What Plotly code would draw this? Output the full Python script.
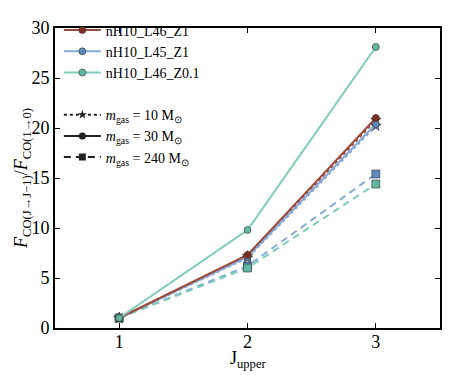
import plotly.graph_objects as go

# J_upper levels
j_upper = [1, 2, 3]

# line ratios, per model and gas mass
l46_z1_30 = [1.0, 7.3, 21.0]
l46_z1_10 = [1.0, 7.2, 20.8]
l45_z1_30 = [1.0, 7.1, 20.4]
l45_z1_10 = [1.0, 7.0, 20.2]
l45_z1_240 = [1.0, 6.2, 15.4]
l46_z01_30 = [1.0, 9.8, 28.1]
l46_z01_240 = [1.0, 6.0, 14.4]

red_line, red_mark = "#9c4a3c", "#7d2f24"
blue_line, blue_mark = "#86aad6", "#5f88bd"
teal_line, teal_mark = "#7fcab8", "#62b7a2"

font = "Liberation Serif"
dashed = "7px,5px"

fig = go.Figure()


def add(y, line_c, mark_c, dash, symbol, size):
    fig.add_trace(go.Scatter(
        x=j_upper, y=y, mode="lines+markers", showlegend=False,
        line=dict(color=line_c, width=2, dash=dash),
        marker=dict(color=mark_c, symbol=symbol, size=size,
                    line=dict(color="#333333", width=0.6))))


# dashed (240 Msun) at the back
add(l45_z1_240, blue_line, blue_mark, dashed, "square", 8)
add(l46_z01_240, teal_line, teal_mark, dashed, "square", 8)
# dotted (10 Msun)
add(l45_z1_10, blue_line, blue_mark, "dot", "star", 8)
add(l46_z1_10, red_line, red_mark, "dot", "star", 8)
# solid (30 Msun)
add(l45_z1_30, blue_line, blue_mark, "solid", "circle", 7)
add(l46_z1_30, red_line, red_mark, "solid", "circle", 7)
add(l46_z01_30, teal_line, teal_mark, "solid", "circle", 7)

# legend entries: models
models = [("nH10_L46_Z1", red_line, red_mark),
          ("nH10_L45_Z1", blue_line, blue_mark),
          ("nH10_L46_Z0.1", teal_line, teal_mark)]
for name, lc, mc in models:
    fig.add_trace(go.Scatter(
        x=[None], y=[None], mode="lines+markers", name=name,
        legendgroup="models",
        line=dict(color=lc, width=2),
        marker=dict(color=mc, size=7, line=dict(color="#333333", width=0.6))))

# legend entries: gas masses
masses = [("<i>m</i><sub>gas</sub> = 10 M<sub>⊙</sub>", "dot", "star"),
          ("<i>m</i><sub>gas</sub> = 30 M<sub>⊙</sub>", "solid", "circle"),
          ("<i>m</i><sub>gas</sub> = 240 M<sub>⊙</sub>", dashed, "square")]
for name, dash, sym in masses:
    fig.add_trace(go.Scatter(
        x=[None], y=[None], mode="lines+markers", name=name,
        legendgroup="masses",
        line=dict(color="#222222", width=2, dash=dash),
        marker=dict(color="#222222", symbol=sym, size=7)))

axis = dict(showline=True, linecolor="black", linewidth=2, mirror="ticks",
            ticks="inside", ticklen=5, tickcolor="black", tickwidth=1,
            showgrid=False, zeroline=False, automargin=False,
            tickfont=dict(family=font, size=18, color="black"))

fig.update_xaxes(axis, range=[0.5, 3.5], tickvals=j_upper, ticklabelstandoff=-4)
fig.update_yaxes(axis, range=[0, 30], dtick=5)

title_font = dict(family=font, size=18, color="black")
fig.add_annotation(text="J<sub>upper</sub>", x=0.5, y=-0.105,
                   xref="paper", yref="paper", xanchor="center", yanchor="middle",
                   showarrow=False, font=title_font)
fig.add_annotation(text="<i>F</i><sub>CO(J→J−1)</sub>/<i>F</i><sub>CO(1→0)</sub>",
                   x=-0.086, y=0.5, xref="paper", yref="paper",
                   xanchor="center", yanchor="middle", textangle=-90,
                   showarrow=False, font=title_font)

# page body adds 8px, so the figure is 8px smaller than the window
fig.update_layout(
    width=450, height=367,
    margin=dict(l=47, r=18, t=6, b=47),
    plot_bgcolor="white", paper_bgcolor="white",
    font=dict(family=font, color="black"),
    legend=dict(x=0.01, y=1.045, xanchor="left", yanchor="top",
                bgcolor="rgba(0,0,0,0)", traceorder="grouped",
                tracegroupgap=21, itemwidth=37,
                font=dict(family=font, size=14, color="black")),
)

fig.write_html("out.html")
